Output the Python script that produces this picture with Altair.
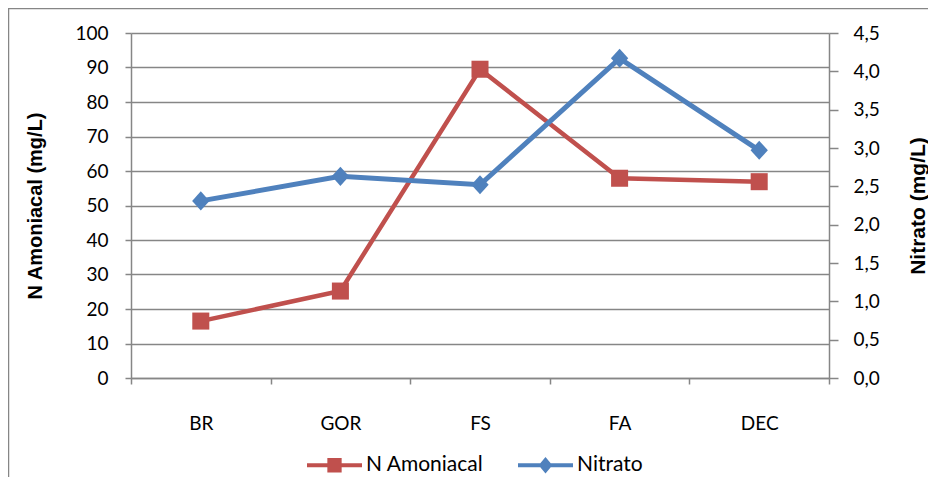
import altair as alt
import pandas as pd

categories = ["BR", "GOR", "FS", "FA", "DEC"]
n_amoniacal = [16.5, 25.2, 89.5, 57.9, 56.9]
nitrato = [2.31, 2.63, 2.52, 4.17, 2.97]
series_names = ["N Amoniacal", "Nitrato"]
series_colors = ["#C0504D", "#4F81BD"]
left_ticks = [0, 10, 20, 30, 40, 50, 60, 70, 80, 90, 100]
right_ticks = [0.0, 0.5, 1.0, 1.5, 2.0, 2.5, 3.0, 3.5, 4.0, 4.5]

df = pd.DataFrame({"cat": categories, "amon": n_amoniacal, "nit": nitrato})
legend_df = pd.DataFrame({"series": series_names})

W, H = 698, 345
GRID = "#868686"
FONT = "Lato"
TFONT = "Liberation Sans"

legend_paths = [
    "M-1,-0.07H1V0.07H-1Z M-0.26,-0.26H0.26V0.26H-0.26Z",
    "M-1,-0.07H1V0.07H-1Z M0,-0.3L0.25,0L0,0.3L-0.25,0Z",
]
diamond = "M0,-1.1L1,0L0,1.1L-1,0Z"

x_enc = alt.X(
    "cat:N", sort=categories, bandPosition=0.5,
    scale=alt.Scale(type="band", paddingInner=0, paddingOuter=0),
    axis=alt.Axis(title=None, tickBand="extent", labelAngle=0, labelPadding=30,
                  domainColor=GRID, domainWidth=1.5, tickColor=GRID, tickWidth=1.5,
                  tickSize=6, labelFont=FONT, labelFontSize=19, labelColor="black"),
)

frame = alt.Chart(alt.Data(values=[{}])).mark_rect(
    fillOpacity=0, stroke=GRID, strokeWidth=1.5
).encode(
    x=alt.value(-122.5), x2=alt.value(W + 300),
    y=alt.value(-24.5), y2=alt.value(H + 300),
)

red = alt.Chart(df).mark_line(
    color=series_colors[0], strokeWidth=4.5,
    point=alt.OverlayMarkDef(shape="square", size=290, filled=True,
                             color=series_colors[0], opacity=1),
).encode(
    x=x_enc,
    y=alt.Y("amon:Q", scale=alt.Scale(domain=[0, 100], nice=False),
            axis=alt.Axis(orient="left", values=left_ticks, title="N Amoniacal (mg/L)",
                          grid=True, gridColor=GRID, gridWidth=1.5,
                          domainColor=GRID, domainWidth=1.5, tickColor=GRID,
                          tickWidth=1.5, tickSize=6, labelPadding=17,
                          labelFont=FONT, labelFontSize=19, labelColor="black",
                          titleAngle=270, titleX=-96, titleY=H / 2,
                          titleBaseline="middle", titleAlign="center",
                          titleFont=TFONT, titleFontWeight="bold",
                          titleFontSize=20, titleColor="black")),
)

blue = alt.Chart(df).mark_line(
    color=series_colors[1], strokeWidth=5,
    point=alt.OverlayMarkDef(shape=diamond, size=300, filled=True,
                             color=series_colors[1], opacity=1),
).encode(
    x=x_enc,
    y=alt.Y("nit:Q", scale=alt.Scale(domain=[0, 4.5], nice=False),
            axis=alt.Axis(orient="right", values=right_ticks, title="Nitrato (mg/L)",
                          grid=False, domainColor=GRID, domainWidth=1.5,
                          tickColor=GRID, tickWidth=1.5, tickSize=9, labelPadding=15,
                          labelExpr="replace(format(datum.value, '.1f'), '.', ',')",
                          labelFont=FONT, labelFontSize=19, labelColor="black",
                          titleAngle=270, titleX=89, titleY=H / 2,
                          titleBaseline="middle", titleAlign="center",
                          titleFont=TFONT, titleFontWeight="bold",
                          titleFontSize=21, titleColor="black")),
)

leg = alt.Legend(title=None, orient="none", direction="horizontal",
                 legendX=176, legendY=404.5, symbolSize=3025, symbolStrokeWidth=0,
                 labelFont=FONT, labelFontSize=21, labelColor="black",
                 labelOffset=4, columnPadding=34, symbolOpacity=1)

legend_layer = alt.Chart(legend_df).transform_filter("false").mark_point(
    filled=True, opacity=1
).encode(
    color=alt.Color("series:N", scale=alt.Scale(domain=series_names, range=series_colors), legend=leg),
    shape=alt.Shape("series:N", scale=alt.Scale(domain=series_names, range=legend_paths), legend=leg),
)

chart = alt.layer(frame, red, blue, legend_layer).resolve_scale(
    y="independent"
).properties(
    width=W, height=H,
    autosize=alt.AutoSizeParams(type="none"),
    padding={"left": 123, "top": 25, "right": 99, "bottom": 99},
).configure_view(strokeWidth=0)

chart.save("out.html", embed_options={"renderer": "svg", "actions": False})
